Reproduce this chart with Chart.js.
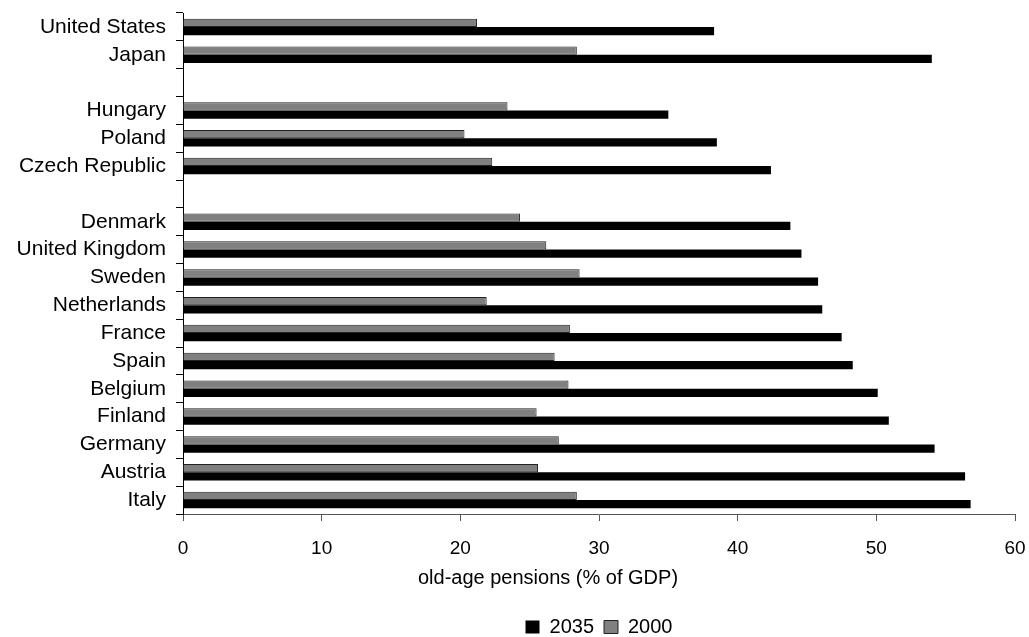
<!DOCTYPE html>
<html>
<head>
<meta charset="utf-8">
<script src="https://cdn.jsdelivr.net/npm/chart.js@4"></script>
<style>
  html, body { margin: 0; padding: 0; background: #fff; }
  #wrap { width: 1029px; height: 637px; }
</style>
</head>
<body>
<div id="wrap"><canvas id="myChart" width="1029" height="637"></canvas></div>
<script>
// categories, top to bottom; blank entries are the gaps between country groups
const categories = ['United States', 'Japan', '', 'Hungary', 'Poland', 'Czech Republic', '',
  'Denmark', 'United Kingdom', 'Sweden', 'Netherlands', 'France', 'Spain', 'Belgium',
  'Finland', 'Germany', 'Austria', 'Italy'];

const pensions2000 = [21.2, 28.4, null, 23.4, 20.3, 22.3, null,
  24.3, 26.2, 28.6, 21.9, 27.9, 26.8, 27.8, 25.5, 27.1, 25.6, 28.4];

const pensions2035 = [38.3, 54.0, null, 35.0, 38.5, 42.4, null,
  43.8, 44.6, 45.8, 46.1, 47.5, 48.3, 50.1, 50.9, 54.2, 56.4, 56.8];

const xTicks = [0, 10, 20, 30, 40, 50, 60];
const xTitle = 'old-age pensions (% of GDP)';

Chart.defaults.font.family = '"Liberation Sans", Arial, sans-serif';
Chart.defaults.color = '#000';

const chart = document.getElementById('myChart');

// axis title sits a bit left of the plot centre in the original, so draw it by hand
const axisTitle = {
  id: 'axisTitle',
  afterDraw(c) {
    const ctx = c.ctx;
    ctx.save();
    ctx.font = '20px "Liberation Sans", Arial, sans-serif';
    ctx.fillStyle = '#000';
    ctx.textAlign = 'center';
    ctx.textBaseline = 'middle';
    ctx.fillText(xTitle, 548, 578);
    ctx.restore();
  }
};

const data = {
  labels: categories,
  datasets: [
    {
      label: '2000',
      data: pensions2000,
      backgroundColor: '#808080',
      borderColor: '#222',
      borderWidth: 1
    },
    {
      label: '2035',
      data: pensions2035,
      backgroundColor: '#000',
      borderColor: '#000',
      borderWidth: 0
    }
  ]
};

const config = {
  type: 'bar',
  data: data,
  plugins: [axisTitle],
  options: {
    indexAxis: 'y',
    responsive: false,
    animation: false,
    devicePixelRatio: 1,
    categoryPercentage: 0.59,
    barPercentage: 1.0,
    layout: {
      padding: { left: 9, right: 14, top: 13, bottom: -10 }
    },
    plugins: {
      tooltip: { enabled: false },
      legend: {
        position: 'bottom',
        fullSize: false,
        reverse: true,
        labels: {
          boxWidth: 14,
          boxHeight: 13,
          padding: 10,
          font: { size: 20 }
        }
      }
    },
    scales: {
      x: {
        min: 0,
        max: 60,
        afterBuildTicks: (scale) => { scale.ticks = xTicks.map(v => ({ value: v })); },
        afterFit: (scale) => {
          scale.height = 93;
          scale.paddingLeft = 0;
          scale.paddingRight = 0;
        },
        border: { color: '#555', width: 1 },
        grid: { drawOnChartArea: false, drawTicks: true, tickLength: 7, color: '#555' },
        ticks: { font: { size: 19 }, padding: 16 }
      },
      y: {
        afterFit: (scale) => {
          scale.width = 174;
          scale.paddingTop = 0;
          scale.paddingBottom = 0;
        },
        border: { color: '#000', width: 1 },
        grid: { drawOnChartArea: false, drawTicks: true, tickLength: 7, color: '#000', offset: true },
        ticks: { font: { size: 21 }, padding: 10, autoSkip: false }
      }
    }
  }
};

const myChart = new Chart(chart, config);
</script>
</body>
</html>
